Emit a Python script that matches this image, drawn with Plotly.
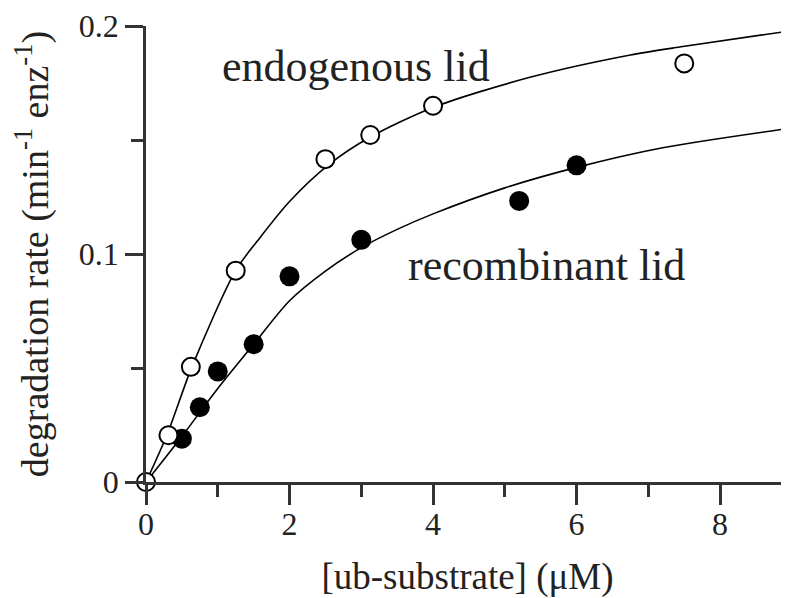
import plotly.graph_objects as go

endo_x = [0, 0.3125, 0.625, 1.25, 2.5, 3.125, 4.0, 7.5]
endo_y = [0, 0.0205, 0.0505, 0.0927, 0.1416, 0.1522, 0.1650, 0.1836]

recomb_x = [0.5, 0.75, 1.0, 1.5, 2.0, 3.0, 5.2, 6.0]
recomb_y = [0.0190, 0.0328, 0.0485, 0.0604, 0.0902, 0.1062, 0.1233, 0.1389]

# Fitted curves
endo_fit_x = [0, 0.29, 0.64, 1.25, 1.56, 2.0, 2.56, 3.12, 4.0, 5.35, 6.75, 7.48, 8.96]
endo_fit_y = [0, 0.0205, 0.0505, 0.0928, 0.1060, 0.1230, 0.1395, 0.1512, 0.1643, 0.1775, 0.1873, 0.1910, 0.1978]

recomb_fit_x = [0, 0.5, 1.0, 1.5, 2.0, 2.5, 3.0, 3.5, 4.0, 5.0, 6.0, 7.2, 8.96]
recomb_fit_y = [0, 0.0200, 0.0410, 0.0604, 0.0795, 0.0925, 0.1028, 0.1108, 0.1176, 0.1290, 0.1380, 0.1466, 0.1551]

x_ticks = [0, 2, 4, 6, 8]
y_ticks = [0, 0.1, 0.2]
y_tick_labels = ["0", "0.1", "0.2"]

FONT = "Liberation Serif, Times New Roman, serif"
INK = "#222"

fig = go.Figure()
fig.add_trace(go.Scatter(x=endo_fit_x, y=endo_fit_y, mode="lines",
                         line=dict(color="black", width=1.6, shape="spline", smoothing=0.8),
                         showlegend=False, hoverinfo="skip"))
fig.add_trace(go.Scatter(x=recomb_fit_x, y=recomb_fit_y, mode="lines",
                         line=dict(color="black", width=1.6, shape="spline", smoothing=0.8),
                         showlegend=False, hoverinfo="skip"))
fig.add_trace(go.Scatter(x=recomb_x, y=recomb_y, mode="markers", name="recombinant lid",
                         marker=dict(symbol="circle", size=20, color="black",
                                     line=dict(color="black", width=0)),
                         cliponaxis=False, showlegend=False))
fig.add_trace(go.Scatter(x=endo_x, y=endo_y, mode="markers", name="endogenous lid",
                         marker=dict(symbol="circle", size=18, color="white",
                                     line=dict(color="black", width=2)),
                         cliponaxis=False, showlegend=False))

fig.add_annotation(x=2.93, y=0.1821, text="endogenous lid", showarrow=False,
                   xanchor="center", yanchor="middle",
                   font=dict(family=FONT, size=44, color=INK))
fig.add_annotation(x=5.575, y=0.0950, text="recombinant lid", showarrow=False,
                   xanchor="center", yanchor="middle",
                   font=dict(family=FONT, size=44, color=INK))

fig.update_xaxes(range=[0, 8.96], showline=True, linecolor="#333", linewidth=2.5,
                 ticks="outside", ticklen=20, tickwidth=2.5, tickcolor="#333",
                 tickvals=x_ticks, showgrid=False, zeroline=False,
                 minor=dict(ticks="outside", ticklen=12, tickwidth=2.5, tickcolor="#333", dtick=1, tick0=0),
                 ticklabelstandoff=-8, ticklabeloverflow="allow",
                 tickfont=dict(family=FONT, size=32, color=INK),
                 title=dict(text="[ub-substrate] (μM)", standoff=24,
                            font=dict(family=FONT, size=37, color=INK)))
fig.update_yaxes(range=[0, 0.2], showline=True, linecolor="#333", linewidth=2.5,
                 ticks="outside", ticklen=18, tickwidth=2.5, tickcolor="#333",
                 tickvals=y_ticks, ticktext=y_tick_labels, showgrid=False, zeroline=False,
                 minor=dict(ticks="outside", ticklen=12, tickwidth=2.5, tickcolor="#333", dtick=0.05, tick0=0),
                 ticklabeloverflow="allow",
                 tickfont=dict(family=FONT, size=32, color=INK),
                 title=dict(text="degradation rate (min<sup>-1</sup> enz<sup>-1</sup>)", standoff=40,
                            font=dict(family=FONT, size=38, color=INK)))

# page body has an 8px margin, so the figure is sized/offset to compensate
fig.update_layout(width=781, height=590, margin=dict(l=138, r=0, t=15, b=116),
                  paper_bgcolor="white", plot_bgcolor="white")

fig.write_html("out.html")
